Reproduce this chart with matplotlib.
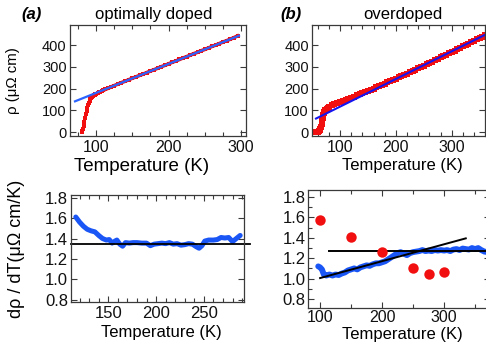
import matplotlib
matplotlib.use("Agg")
import matplotlib.pyplot as plt
from matplotlib.ticker import MultipleLocator

plt.rcParams['font.family'] = ['Liberation Sans', 'DejaVu Sans']

# ---------------- data ----------------
# (a) optimally doped resistivity
T_a = [80, 81, 82, 83, 84, 85, 86, 87, 88, 89, 90, 91, 92, 93, 94, 95, 96, 97, 98, 99,
       100, 102, 104, 106, 108, 110, 113, 116, 120, 125, 130, 135, 140, 145, 150, 155,
       160, 165, 170, 175, 180, 185, 190, 195, 200, 205, 210, 215, 220, 225, 230, 235,
       240, 245, 250, 255, 260, 265, 270, 275, 280, 285, 290, 295]
rho_a = [2, 7, 16, 30, 47, 65, 82, 98, 112, 125, 136, 145, 152, 157, 161, 165, 168, 170, 172, 174,
         176, 179, 183, 186, 189, 192, 197, 201, 207, 214, 221, 228, 234, 241, 248, 254,
         261, 267, 274, 281, 287, 294, 301, 307, 314, 321, 327, 334, 341, 347, 354, 361,
         367, 374, 380, 387, 394, 400, 407, 414, 420, 427, 434, 442]
fitT_a = [71, 297]
fitrho_a = [142, 443]

# (b) overdoped resistivity
T_b = [55, 57, 59, 61, 63, 64, 65, 66, 67, 68, 69, 70, 71, 72, 73, 74, 76, 78, 80, 85, 90, 95,
       100, 105, 110, 115, 120, 125, 130, 135, 140, 145, 150, 155, 160, 165, 170, 175, 180,
       185, 190, 195, 200, 205, 210, 215, 220, 225, 230, 235, 240, 245, 250, 255, 260, 265,
       270, 275, 280, 285, 290, 295, 300, 305, 310, 315, 320, 325, 330, 335, 340, 345, 350,
       355, 360]
rho_b = [0, 0, 1, 3, 6, 10, 16, 25, 38, 52, 66, 78, 88, 95, 100, 104, 109, 113, 117, 123, 128, 133,
         138, 143, 148.5, 153.5, 158.5, 164, 169, 174, 179.5, 184.5, 189.5, 195, 200.5, 206, 212,
         217.5, 223, 228.5, 234, 240, 245.5, 251.5, 257.5, 263.5, 269.5, 275.5, 281.5, 287.5,
         293.5, 299.5, 305.5, 312, 318, 324.5, 331, 337, 343.5, 349.5, 356, 362, 368.5, 375,
         381.5, 388, 394, 400.5, 407, 413.5, 420, 426, 432.5, 439, 445]
fitT_b = [57, 362]
fitrho_b = [63, 450]

# (a) derivative
dT_a = [116, 120, 124, 128, 132, 136, 140, 144, 148, 151, 154, 157, 159, 162, 165, 168, 172,
        176, 180, 185, 190, 194, 198, 202, 206, 210, 214, 218, 222, 226, 230, 234, 238, 242,
        245, 248, 251, 255, 260, 264, 268, 272, 276, 280, 284, 288]
drho_a = [1.61, 1.56, 1.52, 1.49, 1.475, 1.465, 1.43, 1.40, 1.385, 1.39, 1.355, 1.375, 1.385,
          1.345, 1.325, 1.36, 1.355, 1.36, 1.36, 1.355, 1.355, 1.33, 1.345, 1.35, 1.355, 1.35,
          1.36, 1.345, 1.35, 1.335, 1.34, 1.35, 1.345, 1.32, 1.305, 1.33, 1.375, 1.385, 1.385,
          1.39, 1.41, 1.405, 1.41, 1.37, 1.40, 1.43]
hlineT_a = [111, 298]
hline_a = 1.35

# (b) derivative
dT_b = [97, 100, 103, 106, 110, 115, 120, 125, 130, 135, 140, 145, 150, 155, 160, 165, 170,
        175, 180, 185, 190, 195, 200, 205, 210, 215, 220, 225, 230, 235, 240, 245, 250, 255,
        260, 265, 270, 275, 280, 285, 290, 295, 300, 305, 310, 315, 320, 325, 330, 335, 340,
        345, 350, 355, 360, 365, 370]
drho_b = [1.12, 1.11, 1.09, 1.04, 1.03, 1.04, 1.03, 1.04, 1.035, 1.05, 1.06, 1.08, 1.09, 1.10,
          1.09, 1.11, 1.12, 1.13, 1.125, 1.14, 1.15, 1.15, 1.16, 1.17, 1.19, 1.21, 1.23, 1.25,
          1.26, 1.245, 1.23, 1.25, 1.26, 1.265, 1.27, 1.28, 1.27, 1.275, 1.27, 1.28, 1.275,
          1.28, 1.275, 1.28, 1.27, 1.285, 1.29, 1.28, 1.295, 1.29, 1.285, 1.30, 1.29, 1.30,
          1.28, 1.265, 1.26]
dotT_b = [100, 150, 200, 250, 275, 300]
dot_b = [1.575, 1.405, 1.26, 1.108, 1.048, 1.06]
hlineT_b = [115, 375]
hline_b = 1.275
slopeT_b = [100, 335]
slope_b = [1.005, 1.395]

# ---------------- figure ----------------
W, H = 486, 345
fig = plt.figure(figsize=(W / 100, H / 100), dpi=100)

def ax_px(l, t, r, b):
    return fig.add_axes([l / W, 1 - b / H, (r - l) / W, (b - t) / H])

RED = '#f20f0f'
BLUE = '#1a55f5'
SPINE = '#3a3a3a'

def style(ax, xfs, yfs, xpad=3):
    for s in ax.spines.values():
        s.set_color(SPINE)
        s.set_linewidth(0.9)
    ax.tick_params(which='both', direction='in', top=True, right=True, colors=SPINE,
                   width=0.8)
    ax.tick_params(which='major', length=4.5)
    ax.tick_params(which='minor', length=3)
    ax.tick_params(axis='x', labelsize=xfs, labelcolor='#111111', pad=xpad)
    ax.tick_params(axis='y', labelsize=yfs, labelcolor='#111111', pad=2)

# top (a)
ax1 = ax_px(69.5, 25, 245.5, 136)
ax1.plot(T_a[20:], rho_a[20:], '-', color=RED, lw=2.6)
ax1.plot(T_a, rho_a, 's', color=RED, ms=2.6, mew=0)
ax1.plot(fitT_a, fitrho_a, '-', color='#2a63ff', lw=1.6)
ax1.set_xlim(63.4, 306)
ax1.set_ylim(-17, 492)
ax1.xaxis.set_major_locator(MultipleLocator(100))
ax1.xaxis.set_minor_locator(MultipleLocator(25))
ax1.yaxis.set_major_locator(MultipleLocator(100))
style(ax1, 11.5, 10.5)
ax1.set_xlabel('Temperature (K)', fontsize=13.5, labelpad=0)
ax1.xaxis.set_label_coords((142 - 69.5) / 176, -0.2)
ax1.xaxis.label.set_va('top')
ax1.set_ylabel('ρ (μΩ cm)', fontsize=10.8)
ax1.yaxis.set_label_coords((20 - 69.5) / 176, 0.5)

# top (b)
ax2 = ax_px(311.7, 25, 485, 136)
ax2.plot(T_b, rho_b, 's', color=RED, ms=4.2, mew=0)
ax2.plot(fitT_b, fitrho_b, '-', color='#1414f0', lw=1.5)
ax2.set_xlim(49.3, 359.6)
ax2.set_ylim(-17, 492)
ax2.xaxis.set_major_locator(MultipleLocator(100))
ax2.xaxis.set_minor_locator(MultipleLocator(20))
ax2.yaxis.set_major_locator(MultipleLocator(100))
style(ax2, 11.5, 10.5)
ax2.set_xlabel('Temperature (K)', fontsize=12, labelpad=0)
ax2.xaxis.set_label_coords((402 - 311.7) / 173.3, -0.2)

# bottom (a)
ax3 = ax_px(71, 195, 244, 302)
ax3.plot(dT_a, drho_a, '-', color=BLUE, lw=3.6, solid_capstyle='round')
ax3.plot(hlineT_a, [hline_a, hline_a], '-', color='black', lw=1.3, clip_on=False)
ax3.set_xlim(111, 292)
ax3.set_ylim(0.78, 1.825)
ax3.xaxis.set_major_locator(MultipleLocator(50))
ax3.xaxis.set_minor_locator(MultipleLocator(10))
ax3.yaxis.set_major_locator(MultipleLocator(0.2))
style(ax3, 12, 12)
ax3.set_xlabel('Temperature (K)', fontsize=12)
ax3.xaxis.set_label_coords((161 - 71) / 173, (302 - 325) / 107)
ax3.xaxis.label.set_va('top')
ax3.set_ylabel('dρ / dT(μΩ cm/K)', fontsize=13)
ax3.yaxis.set_label_coords((25 - 71) / 173, 0.5)

# bottom (b)
ax4 = ax_px(308.3, 190, 490, 307.7)
ax4.plot(dT_b, drho_b, '-', color=BLUE, lw=4.2, solid_capstyle='round')
ax4.plot(hlineT_b, [hline_b, hline_b], '-', color='black', lw=1.4)
ax4.plot(slopeT_b, slope_b, '-', color='black', lw=1.4)
ax4.plot(dotT_b, dot_b, 'o', color=RED, ms=7.5, mew=0)
ax4.set_xlim(81, 81 + (490 - 308.3) / 0.62)
ax4.set_ylim(0.714, 1.87)
ax4.xaxis.set_major_locator(MultipleLocator(100))
ax4.xaxis.set_minor_locator(MultipleLocator(50))
ax4.yaxis.set_major_locator(MultipleLocator(0.2))
ax4.yaxis.set_minor_locator(MultipleLocator(0.1))
style(ax4, 11.5, 12, xpad=1.5)
ax4.set_xlabel('Temperature (K)', fontsize=12)
ax4.xaxis.set_label_coords((402 - 308.3) / 181.7, (307.7 - 327) / 117.7)
ax4.xaxis.label.set_va('top')

for ax in (ax3, ax4):
    ax.yaxis.set_major_formatter(plt.FuncFormatter(lambda v, p: f'{v:.1f}'))

# titles / panel labels
fig.text(32 / W, 1 - 15 / H, '(a)', fontsize=12, fontweight='bold', fontstyle='italic',
         ha='center', va='center')
fig.text(153.5 / W, 1 - 15 / H, 'optimally doped', fontsize=12, ha='center', va='center')
fig.text(291 / W, 1 - 15 / H, '(b)', fontsize=12, fontweight='bold', fontstyle='italic',
         ha='center', va='center')
fig.text(402.5 / W, 1 - 15 / H, 'overdoped', fontsize=12, ha='center', va='center')

fig.savefig('out.png', dpi=100)
